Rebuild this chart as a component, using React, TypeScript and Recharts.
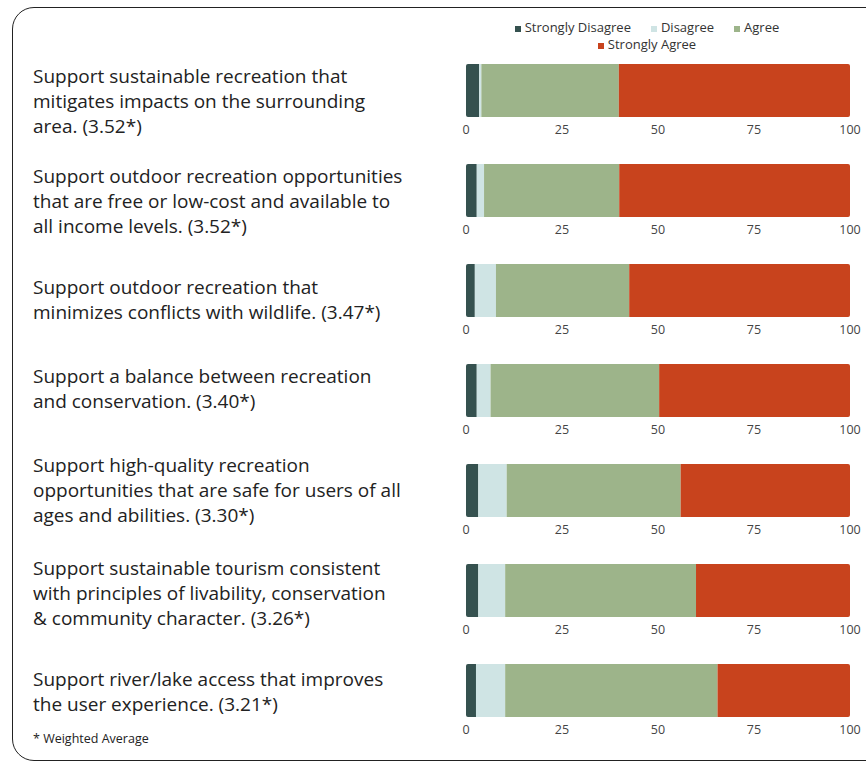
import React from "react";
import { BarChart, Bar, XAxis, YAxis, Legend } from "recharts";

const statements = [
  "Support sustainable recreation that\nmitigates impacts on the surrounding\narea. (3.52*)",
  "Support outdoor recreation opportunities\nthat are free or low-cost and available to\nall income levels. (3.52*)",
  "Support outdoor recreation that\nminimizes conflicts with wildlife. (3.47*)",
  "Support a balance between recreation\nand conservation. (3.40*)",
  "Support high-quality recreation\nopportunities that are safe for users of all\nages and abilities. (3.30*)",
  "Support sustainable tourism consistent\nwith principles of livability, conservation\n& community character. (3.26*)",
  "Support river/lake access that improves\nthe user experience. (3.21*)",
];
const stronglyDisagree = [3.4, 2.8, 2.3, 2.8, 3.2, 3.2, 2.6];
const disagree = [0.6, 1.9, 5.5, 3.6, 7.4, 7.0, 7.6];
const agree = [35.8, 35.2, 34.7, 43.9, 45.3, 49.7, 55.3];
const stronglyAgree = [60.2, 60.1, 57.5, 49.7, 44.1, 40.1, 34.5];
const xTicks = [0, 25, 50, 75, 100];
const seriesNames = ["Strongly Disagree", "Disagree", "Agree", "Strongly Agree"];
const footnote = "* Weighted Average";

const colors = ["#35514f", "#cfe4e4", "#9db48a", "#c8431d"];
const FONT = "'Open Sans', sans-serif";
// top of each label block, px
const labelTops = [64, 164, 275, 364, 453, 556, 667];

const RowChart = ({ i }: { i: number }) => {
  const first = i === 0;
  const row = [
    {
      name: statements[i],
      [seriesNames[0]]: stronglyDisagree[i],
      [seriesNames[1]]: disagree[i],
      [seriesNames[2]]: agree[i],
      [seriesNames[3]]: stronglyAgree[i],
    },
  ];
  return (
    <div style={{ position: "absolute", left: 440, top: first ? 0 : 50 + i * 100 }}>
      <BarChart
        width={426}
        height={first ? 150 : 100}
        layout="vertical"
        data={row}
        barCategoryGap={0}
        margin={{ top: first ? 19 : 14, right: 16, left: 26, bottom: 3 }}
      >
        <XAxis
          type="number"
          domain={[0, 100]}
          ticks={xTicks}
          axisLine={false}
          tickLine={false}
          height={30}
          tick={{ fontSize: 12.5, fill: "#444", fontFamily: FONT }}
        />
        <YAxis type="category" dataKey="name" hide />
        {first && (
          <Legend
            verticalAlign="top"
            align="center"
            iconType="square"
            iconSize={6}
            width={310}
            itemSorter={(item: any) => seriesNames.indexOf(item.value)}
            wrapperStyle={{
              left: 62,
              width: 310,
              fontFamily: FONT,
              fontSize: 13,
              lineHeight: "17px",
              paddingBottom: 11,
            }}
            formatter={(v) => <span style={{ color: "#333", marginRight: 10 }}>{v}</span>}
          />
        )}
        {seriesNames.map((s, k) => (
          <Bar
            key={s}
            dataKey={s}
            stackId="a"
            fill={colors[k]}
            isAnimationActive={false}
            radius={k === 0 ? [2, 0, 0, 2] : k === 3 ? [0, 2, 2, 0] : 0}
          />
        ))}
      </BarChart>
    </div>
  );
};

export default function App() {
  return (
    <div
      style={{
        position: "absolute",
        left: 0,
        top: 0,
        width: 866,
        height: 762,
        overflow: "hidden",
        background: "#fff",
        fontFamily: FONT,
      }}
    >
      <div
        style={{
          position: "absolute",
          left: 12,
          top: 7,
          width: 880,
          height: 752,
          border: "1.5px solid #222",
          borderRadius: 22,
        }}
      />
      {statements.map((s, i) => (
        <div
          key={i}
          style={{
            position: "absolute",
            left: 33,
            top: labelTops[i],
            fontSize: 19,
            lineHeight: "25px",
            color: "#222",
            whiteSpace: "pre",
          }}
        >
          {s}
        </div>
      ))}
      <div style={{ position: "absolute", left: 33, top: 730, fontSize: 12.5, color: "#222" }}>
        {footnote}
      </div>
      {statements.map((_, i) => (
        <RowChart key={i} i={i} />
      ))}
    </div>
  );
}
